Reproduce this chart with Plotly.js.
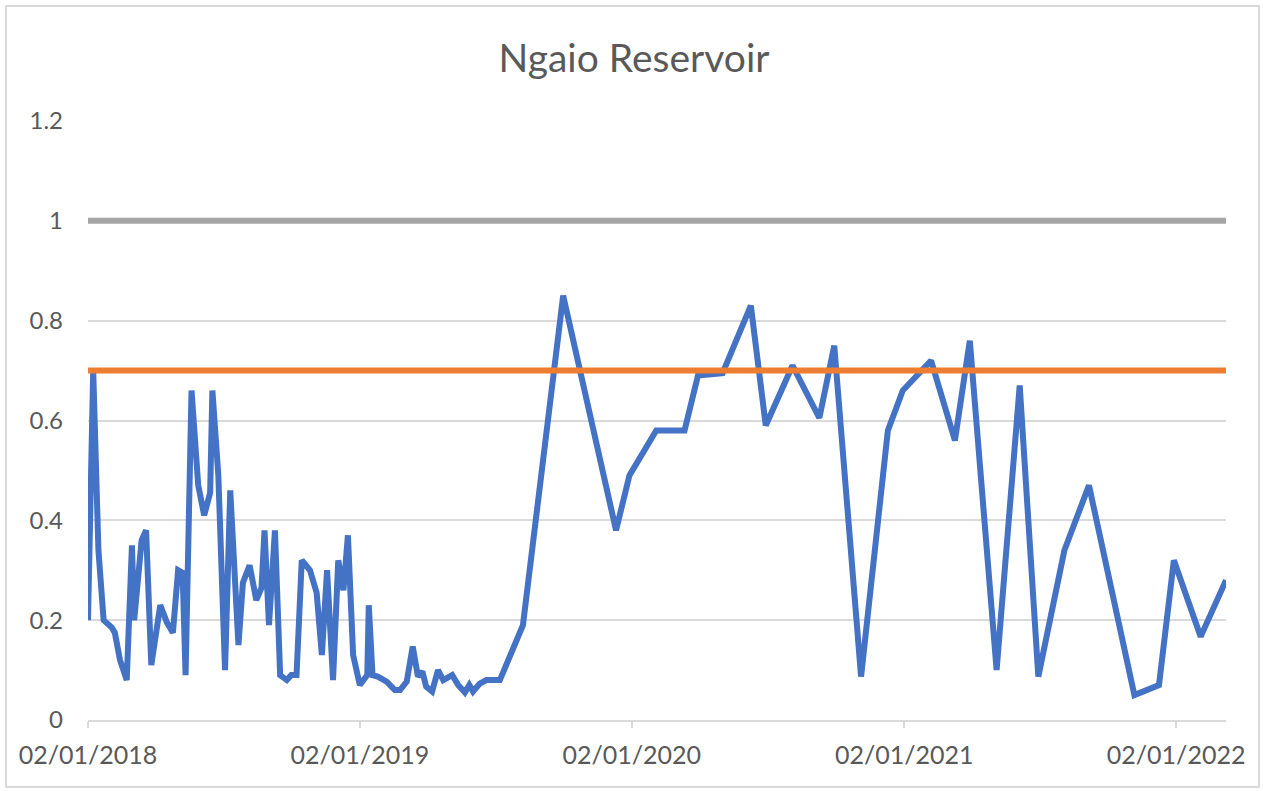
<!DOCTYPE html>
<html>
<head>
<meta charset="utf-8">
<script src="https://cdn.plot.ly/plotly-3.0.1.min.js"></script>
<style>
  html, body { margin: 0; padding: 0; background: #fff; }
  #frame { position: absolute; left: 5px; top: 5px; width: 1251px; height: 779px; border: 2px solid #d9d9d9; }
  #chart { position: absolute; left: 0; top: 0; width: 1263px; height: 791px; }
</style>
</head>
<body>
<div id="frame"></div>
<div id="chart"></div>
<script>
const dates = [
  "2018-01-02","2018-01-09","2018-01-16","2018-01-23","2018-02-03","2018-02-07","2018-02-14","2018-02-23",
  "2018-03-02","2018-03-05","2018-03-15","2018-03-21","2018-03-28","2018-04-09","2018-04-18","2018-04-26",
  "2018-05-03","2018-05-09","2018-05-13","2018-05-21","2018-05-30","2018-06-07","2018-06-15","2018-06-18",
  "2018-06-26","2018-07-05","2018-07-12","2018-07-23","2018-07-29","2018-08-07","2018-08-16","2018-08-23",
  "2018-08-27","2018-09-02","2018-09-10","2018-09-17","2018-09-26","2018-10-02","2018-10-09","2018-10-16",
  "2018-10-27","2018-11-05","2018-11-12","2018-11-19","2018-11-27","2018-12-04","2018-12-11","2018-12-17",
  "2018-12-24","2019-01-02","2019-01-12","2019-01-14","2019-01-19","2019-01-26","2019-02-07","2019-02-18",
  "2019-02-25","2019-03-06","2019-03-14","2019-03-21","2019-03-27","2019-04-01","2019-04-09","2019-04-17",
  "2019-04-24","2019-05-06","2019-05-14","2019-05-23","2019-05-29","2019-06-03","2019-06-12","2019-06-21",
  "2019-07-09","2019-08-09","2019-10-02","2019-12-12","2019-12-30","2020-02-04","2020-03-13","2020-03-31",
  "2020-05-03","2020-06-10","2020-06-30","2020-08-05","2020-09-10","2020-09-30","2020-11-05","2020-12-11",
  "2020-12-31","2021-02-07","2021-03-11","2021-03-31","2021-05-06","2021-06-06","2021-07-01","2021-08-05",
  "2021-09-07","2021-11-07","2021-12-10","2021-12-30","2022-02-04","2022-03-10"
];
const values = [
  0.20,0.70,0.34,0.20,0.185,0.175,0.12,0.08,
  0.35,0.20,0.36,0.38,0.11,0.23,0.195,0.175,
  0.30,0.295,0.09,0.66,0.47,0.41,0.455,0.66,
  0.49,0.10,0.46,0.15,0.275,0.31,0.24,0.265,
  0.38,0.19,0.38,0.09,0.08,0.09,0.09,0.32,
  0.30,0.255,0.13,0.30,0.08,0.32,0.26,0.37,
  0.13,0.07,0.09,0.23,0.09,0.087,0.077,0.06,
  0.06,0.077,0.147,0.087,0.097,0.067,0.057,0.10,
  0.08,0.09,0.07,0.055,0.07,0.057,0.073,0.08,
  0.08,0.19,0.85,0.38,0.49,0.58,0.58,0.69,
  0.695,0.83,0.59,0.71,0.605,0.75,0.087,0.58,
  0.66,0.72,0.56,0.76,0.10,0.67,0.087,0.34,
  0.47,0.05,0.07,0.32,0.167,0.28
];
const limitDates = ["2018-01-02", "2022-03-10"];
const orangeLevel = [0.7, 0.7];
const greyLevel = [1, 1];
const tickDates = ["2018-01-02","2019-01-02","2020-01-02","2021-01-02","2022-01-02"];
const tickLabels = ["02/01/2018","02/01/2019","02/01/2020","02/01/2021","02/01/2022"];
const yTicks = [0, 0.2, 0.4, 0.6, 0.8, 1, 1.2];
const yLabels = ["0","0.2","0.4","0.6","0.8","1","1.2"];

const font = "Lato, 'Open Sans', sans-serif";
const traces = [
  { x: dates, y: values, type: "scatter", mode: "lines",
    line: { color: "#4472C4", width: 6 }, hoverinfo: "x+y" },
  { x: limitDates, y: orangeLevel, type: "scatter", mode: "lines",
    line: { color: "#ED7D31", width: 6 } },
  { x: limitDates, y: greyLevel, type: "scatter", mode: "lines",
    line: { color: "#A5A5A5", width: 6 } }
];
const layout = {
  width: 1263, height: 791,
  paper_bgcolor: "rgba(0,0,0,0)", plot_bgcolor: "rgba(0,0,0,0)",
  showlegend: false,
  margin: { l: 88, r: 37, t: 121, b: 71 },
  title: { text: "Ngaio Reservoir", x: 634/1263, xanchor: "center", xref: "container",
           y: 1 - 58/791, yref: "container", yanchor: "middle",
           font: { family: font, size: 39, color: "#595959" } },
  xaxis: {
    type: "date", range: limitDates,
    tickvals: tickDates, ticktext: tickLabels,
    showgrid: false, zeroline: false,
    showline: true, linecolor: "#d9d9d9", linewidth: 2,
    ticks: "outside", ticklen: 6, tickcolor: "#d9d9d9", tickwidth: 2,
    ticklabelstandoff: 6,
    tickfont: { family: font, size: 25, color: "#595959" }
  },
  yaxis: {
    range: [0, 1.2], tickvals: yTicks, ticktext: yLabels,
    showgrid: true, gridcolor: "#d9d9d9", gridwidth: 2,
    zeroline: false, showline: false, ticks: "",
    ticklabelstandoff: 24,
    tickfont: { family: font, size: 24, color: "#595959" }
  }
};
Plotly.newPlot("chart", traces, layout, { displayModeBar: false, staticPlot: true });
</script>
</body>
</html>
